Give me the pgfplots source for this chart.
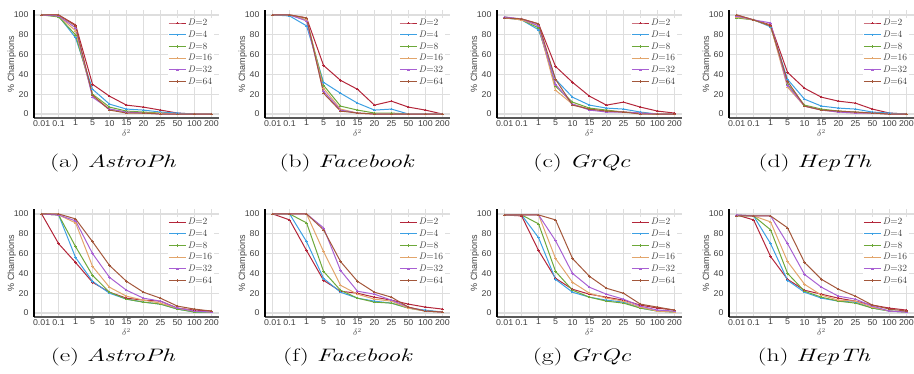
\documentclass[border=0pt]{standalone}
\usepackage{fontspec}
\setsansfont{Liberation Sans}
\usepackage{pgfplots}
\usepackage{pgfplotstable}
\pgfplotsset{compat=1.18}

\definecolor{c2}{HTML}{B3263A}
\definecolor{c4}{HTML}{3DA0E3}
\definecolor{c8}{HTML}{6DA83A}
\definecolor{c16}{HTML}{E2A56B}
\definecolor{c32}{HTML}{A860D3}
\definecolor{c64}{HTML}{A3573B}
\definecolor{gridc}{HTML}{DEDEDE}

\pgfplotstableread{
x d2 d4 d8 d16 d32 d64
0 100 100 100 100 100 100
1 100 99 98 99 99 100
2 90 77 80 84 87 89
3 30 25 20 19 17 19
4 18 10 7 5 5 4
5 9 5 3 2 2 1
6 7 4 2 1 1 1
7 4 2 1 1 0 0
8 1 1 0 0 0 0
9 0 0 0 0 0 0
10 0 0 0 0 0 0
}\tA
\pgfplotstableread{
x d2 d4 d8 d16 d32 d64
0 100 100 100 100 100 100
1 100 99 100 100 100 100
2 97 89 95 95 94 97
3 49 32 29 26 23 21
4 34 21 8 5 4 3
5 25 11 4 1 1 1
6 9 4 1 0 0 0
7 13 5 1 0 0 0
8 7 0 0 0 0 0
9 4 0 0 0 0 0
10 0 0 0 0 0 0
}\tB
\pgfplotstableread{
x d2 d4 d8 d16 d32 d64
0 97 97 98 97 98 97
1 96 95 95 95 96 96
2 91 85 87 89 89 91
3 48 35 28 24 30 35
4 32 17 12 10 10 9
5 18 9 6 5 4 5
6 9 6 4 3 2 3
7 12 5 2 2 2 2
8 7 2 1 1 1 0
9 3 0 0 0 0 0
10 1 0 0 0 0 0
}\tC
\pgfplotstableread{
x d2 d4 d8 d16 d32 d64
0 100 98 97 98 99 100
1 95 95 95 95 95 95
2 90 88 89 89 92 89
3 42 35 30 27 29 33
4 26 15 9 8 8 8
5 17 8 5 4 4 4
6 13 6 3 2 2 3
7 11 5 2 1 1 2
8 5 2 1 1 1 1
9 1 1 0 0 0 0
10 0 0 0 0 0 0
}\tD
\pgfplotstableread{
x d2 d4 d8 d16 d32 d64
0 100 100 100 100 100 100
1 70 99 99 99 99 100
2 51 56 67 91 93 95
3 31 32 38 47 60 72
4 21 20 21 26 36 48
5 15 14 14 17 23 32
6 13 11 11 13 15 21
7 12 9 9 10 12 15
8 5 4 4 5 5 7
9 3 1 1 2 2 4
10 2 1 1 1 1 2
}\tE
\pgfplotstableread{
x d2 d4 d8 d16 d32 d64
0 100 100 100 100 100 100
1 94 100 100 100 100 100
2 63 72 91 100 100 100
3 33 35 42 62 86 84
4 22 21 23 28 43 52
5 20 15 15 19 22 32
6 16 12 11 14 19 21
7 13 10 10 12 13 16
8 9 5 5 5 6 6
9 6 3 2 2 2 2
10 4 1 1 1 1 1
}\tF
\pgfplotstableread{
x d2 d4 d8 d16 d32 d64
0 99 99 99 99 99 99
1 98 99 99 99 99 99
2 63 76 90 99 99 99
3 35 34 42 55 73 94
4 24 21 23 31 40 55
5 19 16 16 20 26 37
6 16 13 12 15 19 25
7 13 11 10 12 14 20
8 8 5 5 6 7 9
9 5 2 2 2 3 6
10 3 1 1 1 2 3
}\tG
\pgfplotstableread{
x d2 d4 d8 d16 d32 d64
0 99 99 98 99 99 98
1 94 98 98 98 98 98
2 57 70 84 92 98 98
3 34 33 40 52 70 86
4 23 21 22 29 39 51
5 19 15 16 18 26 34
6 15 12 12 13 17 24
7 12 11 10 12 14 17
8 8 5 5 6 7 8
9 5 2 2 2 2 4
10 3 1 1 1 1 2
}\tH

\pgfplotsset{
 champ/.style={
  scale only axis, width=185pt, height=108pt,
  xmin=-0.45, xmax=10.45, ymin=-4, ymax=105,
  xtick={0,...,10},
  xticklabels={0.01,0.1,1,5,10,15,20,25,50,100,200},
  ytick={0,20,40,60,80,100},
  axis lines*=left,
  x axis line style={line width=2pt, color=black!65},
  y axis line style={line width=1.1pt, color=black},
  grid=major, major grid style={gridc, line width=1.2pt},
  major tick length=0pt,
  /pgf/number format/assume math mode=true,
  tick label style={font=\sffamily\fontsize{8.4}{10}\selectfont, text=black!75, xscale=1.05},
  xticklabel style={inner sep=1pt, yshift=-1pt},
  yticklabel style={inner sep=1pt, xshift=-4pt},
  ylabel={\% Champions},
  ylabel style={font=\sffamily\fontsize{9}{10}\selectfont, text=black!75, at={(axis description cs:-0.12,0.5)}, anchor=center},
  xlabel={$\delta^2$},
  xlabel style={font=\fontsize{9}{10}\selectfont, text=black!70, at={(axis description cs:0.5,-0.14)}, anchor=center},
  legend style={at={(axis description cs:0.725,0.93)}, anchor=north west, draw=none, fill=white, inner sep=0pt,
     font=\fontsize{9.5}{10}\selectfont, text=black!75, row sep=1.2pt,
     nodes={inner sep=1.5pt, text height=6.5pt, text depth=1pt}},
  legend cell align=left,
  every axis plot/.append style={line width=1pt, mark=+, mark size=1.2pt, mark options={line width=0.5pt}},
 }
}

\newcommand\panel[3]{%
 \begin{axis}[champ, at={(#1,#2)}, anchor=south west]
  \addplot[c2] table[x=x,y=d2]{#3};
  \addplot[c4] table[x=x,y=d4]{#3};
  \addplot[c8] table[x=x,y=d8]{#3};
  \addplot[c16] table[x=x,y=d16]{#3};
  \addplot[c32] table[x=x,y=d32]{#3};
  \addplot[c64] table[x=x,y=d64]{#3};
  \legend{\textit{D}=2,\textit{D}=4,\textit{D}=8,\textit{D}=16,\textit{D}=32,\textit{D}=64}
 \end{axis}}

\newcommand\capt[3]{\node[inner sep=0pt] at (#1,#2) {\scalebox{1.42}[1]{\fontsize{18}{21}\selectfont #3}};}

\begin{document}
\begin{tikzpicture}[x=1pt,y=1pt]
 \panel{34pt}{255pt}{\tA}
 \panel{265pt}{255pt}{\tB}
 \panel{497pt}{255pt}{\tC}
 \panel{729pt}{255pt}{\tD}
 \panel{34pt}{56pt}{\tE}
 \panel{265pt}{56pt}{\tF}
 \panel{497pt}{56pt}{\tG}
 \panel{729pt}{56pt}{\tH}
 \capt{113}{210}{(a) \textit{AstroPh}}
 \capt{347}{210}{(b) \textit{Facebook}}
 \capt{582}{210}{(c) \textit{GrQc}}
 \capt{815}{210}{(d) \textit{HepTh}}
 \capt{113}{16}{(e) \textit{AstroPh}}
 \capt{348}{16}{(f) \textit{Facebook}}
 \capt{582}{16}{(g) \textit{GrQc}}
 \capt{814}{16}{(h) \textit{HepTh}}
 \pgfresetboundingbox
 \path[use as bounding box] (0,0) rectangle (914,373);
\end{tikzpicture}
\end{document}
